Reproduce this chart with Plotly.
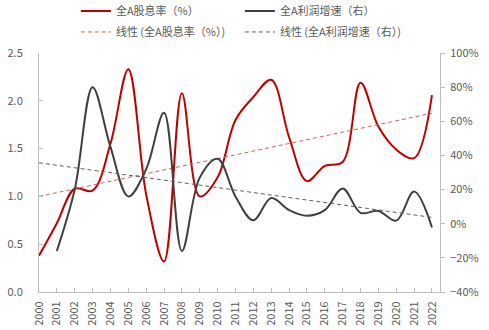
import plotly.graph_objects as go

years = list(range(2000, 2023))
year_labels = [str(y) for y in years]

# 全A股息率（%） left axis
dividend_yield = [0.38, 0.72, 1.08, 1.06, 1.55, 2.33, 1.02, 0.32, 2.08, 1.00,
                  1.20, 1.80, 2.04, 2.22, 1.62, 1.16, 1.32, 1.36, 2.19, 1.73,
                  1.49, 1.40, 2.06]

# 全A利润增速（右） right axis, %, from 2001
profit_years = list(range(2001, 2023))
profit_growth = [-16, 20, 80, 45, 16, 32, 65, -16, 27, 38,
                 16, 2, 15, 8, 4.7, 8, 20.7, 6.4, 7.5, 1.8,
                 18.8, -2.2]

# linear trendlines (endpoints)
trend_years = [2000, 2022]
dividend_trend = [1.00, 1.87]
profit_trend = [35.7, 3.7]

RED = "#C00000"
DARK = "#404040"
TXT = "#595959"
AX = "#BFBFBF"
FONT = "Noto Sans CJK SC"

fig = go.Figure()
fig.add_trace(go.Scatter(x=years, y=dividend_yield, mode="lines",
                         line=dict(color=RED, width=2, shape="spline", smoothing=1.0),
                         name="全A股息率（%）", legend="legend"))
fig.add_trace(go.Scatter(x=profit_years, y=profit_growth, mode="lines", yaxis="y2",
                         line=dict(color=DARK, width=2, shape="spline", smoothing=1.0),
                         name="全A利润增速（右）", legend="legend"))
fig.add_trace(go.Scatter(x=trend_years, y=dividend_trend, mode="lines",
                         line=dict(color="#D06060", width=1, dash="4px,3px"),
                         name="线性 (全A股息率（%）)", legend="legend2"))
fig.add_trace(go.Scatter(x=trend_years, y=profit_trend, mode="lines", yaxis="y2",
                         line=dict(color="#606060", width=1, dash="4px,3px"),
                         name="线性 (全A利润增速（右）)", legend="legend2"))

fig.update_layout(
    width=489, height=330,
    margin=dict(l=39, r=49, t=53, b=38, autoexpand=False),
    paper_bgcolor="white", plot_bgcolor="white",
    font=dict(family=FONT, size=11, color=TXT),
    xaxis=dict(range=[2000, 2022.45], tickmode="array", tickvals=years,
               ticktext=year_labels, tickangle=-90, showgrid=False,
               showline=True, linecolor=AX, linewidth=1, ticks="inside",
               ticklen=4, tickcolor=AX, zeroline=False, ticklabelstandoff=4,
               tickfont=dict(family=FONT, size=11, color=TXT)),
    yaxis=dict(range=[0, 2.5], dtick=0.5, tickformat=".1f", showgrid=False,
               showline=True, linecolor=AX, linewidth=1, ticks="inside",
               ticklen=4, tickcolor=AX, zeroline=False, ticklabelstandoff=13,
               tickfont=dict(family=FONT, size=11, color=TXT)),
    yaxis2=dict(range=[-40, 100], dtick=20, ticksuffix="%", overlaying="y",
                side="right", showgrid=False, showline=True, linecolor=AX,
                linewidth=1, ticks="outside", ticklen=4, tickcolor=AX,
                zeroline=False, ticklabelstandoff=3,
                tickfont=dict(family=FONT, size=11, color=TXT)),
    legend=dict(orientation="h", x=0.092, xanchor="left", y=1.176, yanchor="middle",
                entrywidth=119, entrywidthmode="pixels",
                font=dict(family=FONT, size=11, color=TXT), bgcolor="rgba(0,0,0,0)"),
    legend2=dict(orientation="h", x=0.092, xanchor="left", y=1.088, yanchor="middle",
                 entrywidth=119, entrywidthmode="pixels",
                 font=dict(family=FONT, size=11, color=TXT), bgcolor="rgba(0,0,0,0)"),
    showlegend=True,
)

fig.write_html("out.html")
